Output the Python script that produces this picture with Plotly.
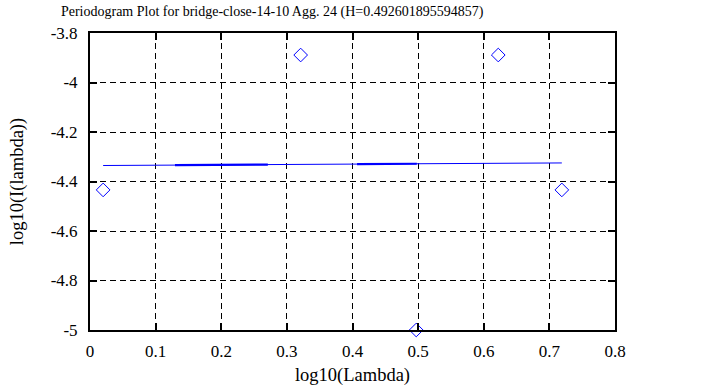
import numpy as np
import plotly.graph_objects as go

# Data
log_lambda = [0.0200, 0.3210, 0.4971, 0.6221, 0.7190]
log_I = [-4.434, -3.889, -5.000, -3.889, -4.434]
H = 0.492601895594857
fit_x = [0.0200, 0.7190]
fit_y = [-4.3354, -4.3250]
thick_seg1_x = [0.1295, 0.2710]
thick_seg2_x = [0.4070, 0.4980]
x_ticks = [0, 0.1, 0.2, 0.3, 0.4, 0.5, 0.6, 0.7, 0.8]
x_ticktext = ["0", "0.1", "0.2", "0.3", "0.4", "0.5", "0.6", "0.7", "0.8"]
y_ticks = [-5, -4.8, -4.6, -4.4, -4.2, -4, -3.8]
y_ticktext = ["-5", "-4.8", "-4.6", "-4.4", "-4.2", "-4", "-3.8"]

slope = (fit_y[1] - fit_y[0]) / (fit_x[1] - fit_x[0])
def fy(xs):
    return [fit_y[0] + slope * (x - fit_x[0]) for x in xs]

fig = go.Figure()
fig.add_trace(go.Scatter(x=fit_x, y=fit_y, mode="lines",
                         line=dict(color="#0000ff", width=1), showlegend=False))
for seg in (thick_seg1_x, thick_seg2_x):
    fig.add_trace(go.Scatter(x=seg, y=fy(seg), mode="lines",
                             line=dict(color="#0000ff", width=2.2), showlegend=False))
fig.add_trace(go.Scatter(x=log_lambda, y=log_I, mode="markers",
                         marker=dict(symbol="diamond-open", size=10.5,
                                     color="#0000ff", line=dict(width=1)),
                         showlegend=False, cliponaxis=False))

fam = "Liberation Serif, Times New Roman, serif"
tick_font = dict(family=fam, size=17, color="black")
axis_title_font = dict(family=fam, size=18.5, color="black")
title_font = dict(family=fam, size=14, color="black")

axis_common = dict(showline=True, linecolor="black", linewidth=2, mirror="ticks",
                   ticks="inside", ticklen=7, tickwidth=2, tickcolor="black",
                   showgrid=True, gridcolor="black", gridwidth=1, griddash="6px,4px",
                   zeroline=False, tickfont=tick_font)

fig.update_layout(
    width=705, height=387,
    margin=dict(l=90, r=90, t=33, b=57),
    paper_bgcolor="white", plot_bgcolor="white",
    font=tick_font,
    title=dict(text=f"Periodogram Plot for bridge-close-14-10 Agg. 24 (H={H})",
               x=0.386, xanchor="center", y=0.972, yanchor="middle",
               font=title_font),
    xaxis=dict(range=[0, 0.8], tickvals=x_ticks, ticktext=x_ticktext,
               ticklabelstandoff=5, automargin=False,
               title=dict(text="log10(Lambda)", font=axis_title_font, standoff=8),
               **axis_common),
    yaxis=dict(range=[-5, -3.8], tickvals=y_ticks, ticktext=y_ticktext,
               ticklabelstandoff=7, automargin=False,
               title=dict(text="log10(I(lambda))", font=axis_title_font, standoff=22),
               **axis_common),
)

fig.write_html("out.html", config={"displayModeBar": False},
               post_script="document.body.style.margin='0px';")
